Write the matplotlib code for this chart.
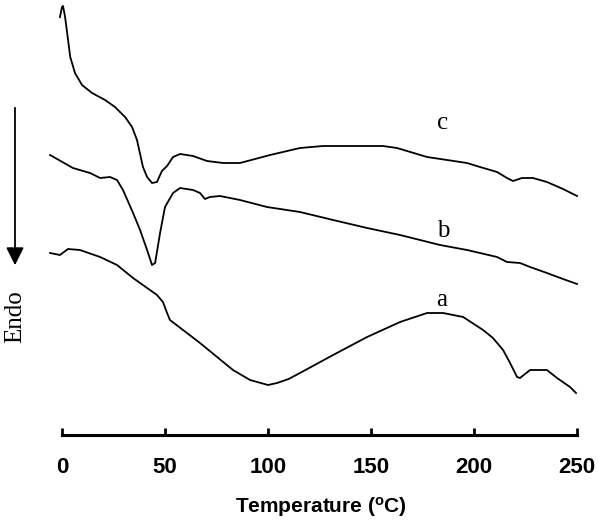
import matplotlib
matplotlib.use("Agg")
import matplotlib.pyplot as plt

plt.rcParams['mathtext.fontset'] = 'custom'
plt.rcParams['mathtext.rm'] = 'Liberation Sans'
plt.rcParams['mathtext.bf'] = 'Liberation Sans:bold'

# Temperature (°C) and heat flow (arbitrary units) for the three DSC curves
temp_c = [-1, 0, 0.5, 1.5, 2.5, 4, 6.3, 9.7, 14.6, 20.9, 25.7, 30.6, 34, 36.4, 39.3, 41.3,
          43.7, 46.1, 48.5, 51, 53.9, 57.3, 63.6, 70.4, 78.2, 86.4, 101, 115.5, 126.7,
          155.8, 162.6, 177.2, 196.6, 202.9, 211.2, 216, 218.9, 223.3, 228.6, 235.4, 243.2, 250]
flow_c = [41.8, 42.8, 42.9, 41.8, 40.2, 37.8, 36.2, 35.0, 34.2, 33.5, 32.8, 31.8, 30.8, 29.5,
          26.8, 25.8, 25.2, 25.3, 26.4, 26.9, 27.8, 28.1, 27.9, 27.4, 27.2, 27.2, 28.0, 28.7,
          28.9, 28.9, 28.7, 27.8, 27.2, 26.8, 26.3, 25.7, 25.4, 25.7, 25.7, 25.3, 24.6, 23.9]

temp_b = [-5.8, 5.3, 13.6, 18.5, 23.3, 26.7, 29.6, 34.5, 37.9, 41.3, 43.7, 45.2, 47.6, 50.0,
          53.9, 57.3, 63.6, 67.0, 69.4, 71.8, 76.7, 86.4, 99.5, 115.5, 131.6, 148.1, 164.1,
          183.5, 196.6, 202.9, 211.2, 216.0, 222.3, 227.2, 235.4, 243.2, 250]
flow_b = [28.0, 26.7, 26.2, 25.7, 25.8, 25.5, 24.5, 22.2, 20.5, 18.5, 17.0, 17.2, 20.2, 22.8,
          24.2, 24.7, 24.5, 24.2, 23.6, 23.8, 23.9, 23.5, 22.8, 22.3, 21.5, 20.7, 20.0,
          19.0, 18.5, 18.2, 17.8, 17.3, 17.2, 16.8, 16.2, 15.6, 15.1]

temp_a = [-5.8, -1.0, 2.9, 8.7, 18.5, 26.7, 34.5, 46.1, 49.0, 51.0, 52.4, 67.0, 83.0, 91.3,
          100, 104.4, 110, 115.5, 131.6, 148.1, 164.1, 177.2, 185.0, 194.7, 204.4, 209.2,
          214.1, 217.5, 220.9, 222.3, 227.2, 235.4, 240.3, 246.6, 249.5]
flow_a = [18.2, 18.0, 18.6, 18.5, 17.8, 17.0, 15.7, 14.0, 13.3, 12.2, 11.5, 9.2, 6.5, 5.5,
          5.0, 5.2, 5.6, 6.2, 8.0, 9.8, 11.3, 12.2, 12.2, 11.8, 10.5, 9.7,
          8.5, 7.2, 5.8, 5.7, 6.5, 6.5, 5.7, 4.8, 4.2]

curve_labels = ['a', 'b', 'c']
label_pos = [(184.5, 13.5), (185, 20.4), (184.5, 31.2)]
x_ticks = [0, 50, 100, 150, 200, 250]

fig = plt.figure(figsize=(6, 5.25), dpi=100)
ax = fig.add_axes([40/600, 90/525, 550/600, 435/525])

for t, f in [(temp_a, flow_a), (temp_b, flow_b), (temp_c, flow_c)]:
    ax.plot(t, f, color='black', lw=1.3)

for lab, (x, y) in zip(curve_labels, label_pos):
    ax.text(x, y, lab, family='Liberation Serif', fontsize=18, ha='center', va='center')

ax.set_xlim(-10.68, 256.3)
ax.set_ylim(0, 43.5)
for s in ['left', 'right', 'top']:
    ax.spines[s].set_visible(False)
ax.spines['bottom'].set_bounds(0, 250)
ax.spines['bottom'].set_linewidth(2.2)
ax.set_yticks([])
ax.set_xticks(x_ticks)
ax.tick_params(axis='x', direction='in', length=5, width=2, pad=16)
for lbl in ax.get_xticklabels():
    lbl.set_family('Liberation Sans')
    lbl.set_fontweight('bold')
    lbl.set_fontsize(16)

fig.text(321/600, 1 - 507/525, r'Temperature ($\mathbf{^{o}}$C)', family='Liberation Sans',
         fontweight='bold', fontsize=15, ha='center', va='center')

fig.text(15/600, 1 - 317/525, 'Endo', family='Liberation Serif', fontsize=18,
         rotation=90, ha='center', va='center')
fig.patches.append(matplotlib.patches.FancyArrowPatch(
    (15/600, 1 - 105/525), (15/600, 1 - 268/525), transform=fig.transFigure,
    arrowstyle='-|>,head_length=0.6,head_width=0.3', mutation_scale=18,
    color='black', lw=1.3))

fig.savefig('out.png', dpi=100)
